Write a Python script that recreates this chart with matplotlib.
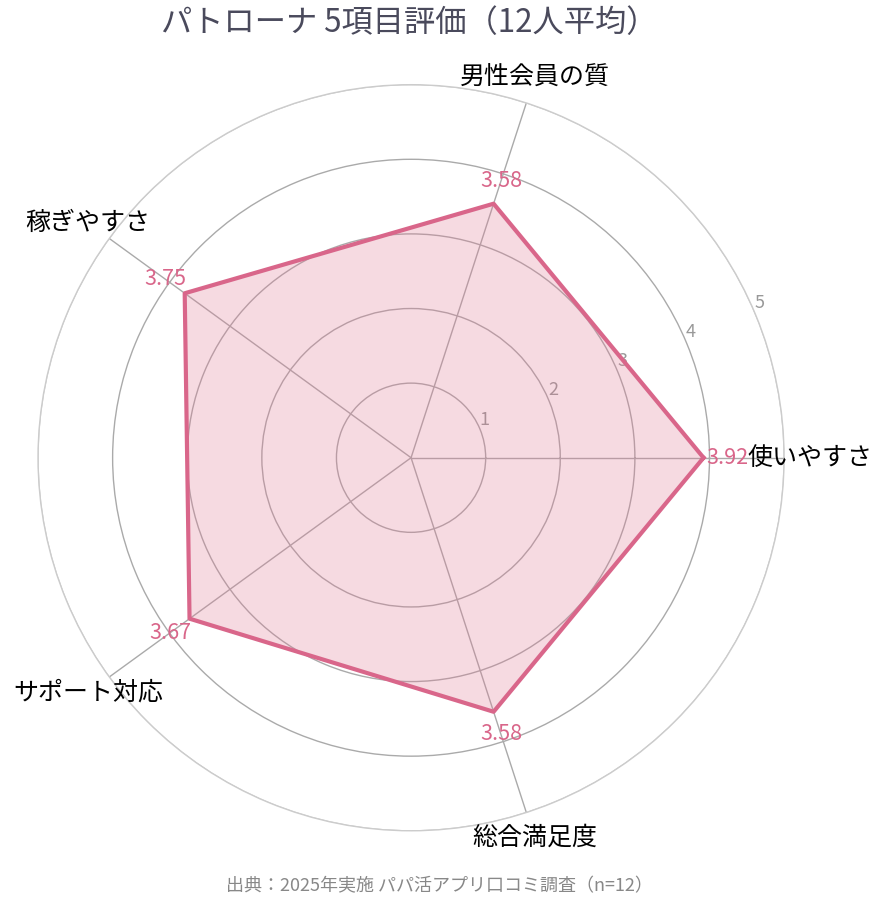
import numpy as np
import matplotlib

matplotlib.use("Agg")
import matplotlib.pyplot as plt

plt.rcParams["font.family"] = ["Noto Sans CJK JP", "DejaVu Sans"]

# データ
categories = ["使いやすさ", "男性会員の質", "稼ぎやすさ", "サポート対応", "総合満足度"]
scores = [3.92, 3.58, 3.75, 3.67, 3.58]
r_ticks = [1, 2, 3, 4, 5]

line_color = "#d9668a"
fill_color = "#e07a95"

angles = np.deg2rad(np.arange(len(categories)) * 360 / len(categories))
ang_closed = np.concatenate([angles, angles[:1]])
val_closed = scores + scores[:1]

fig = plt.figure(figsize=(8.84, 9.10), dpi=100)
ax = fig.add_axes([0.043, 0.087, 0.844, 0.82], projection="polar")

ax.set_ylim(0, 5)
ax.set_xticks(angles)
ax.set_xticklabels([])
ax.set_rgrids(r_ticks, labels=[str(t) for t in r_ticks], angle=23,
              fontsize=13, color="#999999")
ax.grid(True, color="#aaaaaa", linewidth=1.0)
ax.yaxis.get_gridlines()[-1].set_color("#cccccc")
ax.spines["polar"].set_color("#cccccc")
ax.spines["polar"].set_linewidth(1.0)

# レーダー本体
ax.fill(ang_closed, val_closed, color=fill_color, alpha=0.28, zorder=3)
ax.plot(ang_closed, val_closed, color=line_color, linewidth=3, zorder=4)

# 値ラベル
for a, v in zip(angles, scores):
    ax.text(a, v + 0.32, f"{v:.2f}", color=line_color, fontsize=15.5,
            ha="center", va="center", zorder=5)

# 項目ラベル
for a, name in zip(angles, categories):
    ax.text(a, 5.35, name, color="black", fontsize=18,
            ha="center", va="center", zorder=5)

fig.text(0.463, 0.975, "パトローナ 5項目評価（12人平均）", fontsize=22.5,
         color="#4a4a5c", ha="center", va="center")
fig.text(0.497, 0.026, "出典：2025年実施 パパ活アプリ口コミ調査（n=12）",
         fontsize=13, color="#888888", ha="center", va="center")

fig.savefig("out.png", dpi=100)
plt.close(fig)
